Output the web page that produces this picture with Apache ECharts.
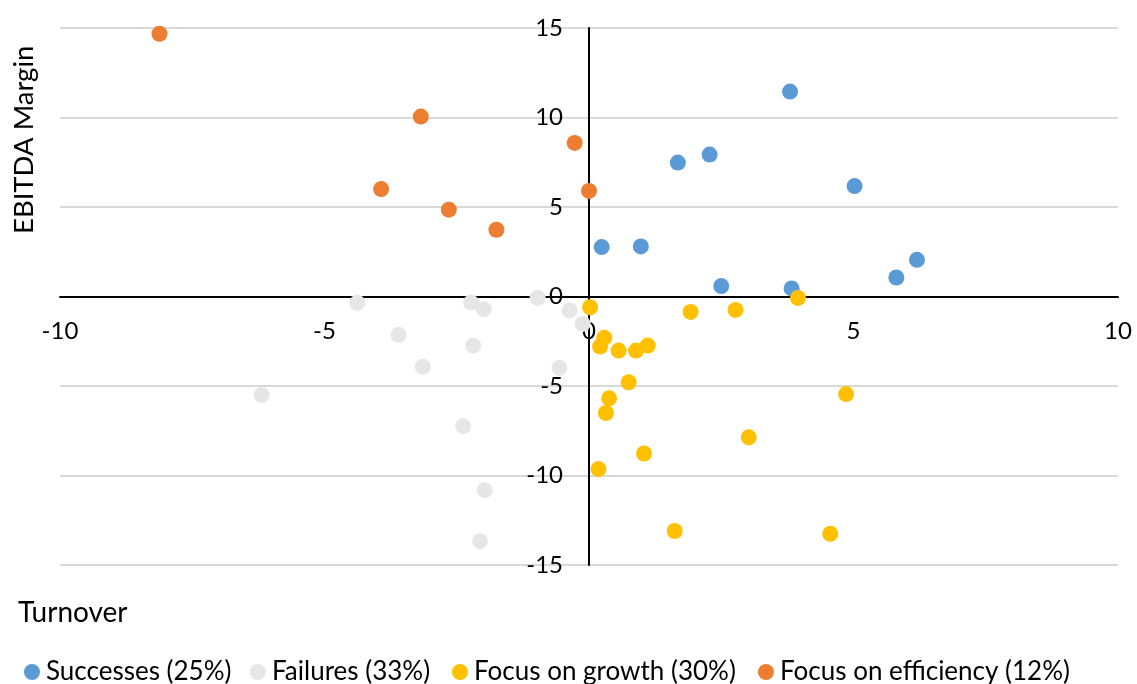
<!DOCTYPE html>
<html>
<head>
<meta charset="utf-8">
<style>
  html, body { margin: 0; padding: 0; background: #ffffff; }
  #chart { width: 1137px; height: 684px; }
</style>
<script src="https://cdn.jsdelivr.net/npm/echarts@6/dist/echarts.min.js"></script>
</head>
<body>
<div id="chart"></div>
<script>
// Turnover (x) vs EBITDA margin (y) for four groups of companies
const seriesNames = ['Successes (25%)', 'Failures (33%)', 'Focus on growth (30%)', 'Focus on efficiency (12%)'];
const seriesColors = ['#5b9bd5', '#e6e6e6', '#ffc000', '#ed7d31'];

const successes = [
  [3.80, 11.45], [1.68, 7.48], [2.28, 7.93], [5.02, 6.17], [0.24, 2.76],
  [0.98, 2.80], [6.20, 2.05], [5.81, 1.06], [2.50, 0.58], [3.83, 0.45]
];
const failures = [
  [-4.38, -0.35], [-2.23, -0.34], [-1.99, -0.71], [-0.97, -0.07], [-0.37, -0.78],
  [-0.12, -1.53], [-3.60, -2.14], [-2.19, -2.74], [-3.14, -3.92], [-0.56, -3.99],
  [-6.19, -5.50], [-2.38, -7.24], [-1.97, -10.82], [-2.06, -13.67]
];
const focusGrowth = [
  [0.02, -0.60], [1.92, -0.86], [2.77, -0.75], [3.95, -0.08], [0.29, -2.31],
  [0.21, -2.80], [0.56, -3.02], [0.89, -3.02], [1.11, -2.74], [0.75, -4.79],
  [0.38, -5.69], [0.32, -6.51], [4.86, -5.45], [3.02, -7.87], [1.04, -8.77],
  [0.18, -9.64], [1.62, -13.10], [4.56, -13.26]
];
const focusEfficiency = [
  [-8.12, 14.68], [-3.18, 10.05], [-3.93, 6.00], [-2.65, 4.85], [-1.75, 3.73],
  [-0.27, 8.58], [0.00, 5.90]
];

const xTitle = 'Turnover';
const yTitle = 'EBITDA Margin';

const FONT = 'Lato';
const groups = [successes, failures, focusGrowth, focusEfficiency];

// plot area
const GRID = { left: 60, right: 19, top: 28, bottom: 119 };
const W = 1137, H = 684;
const plotW = W - GRID.left - GRID.right;
const plotH = H - GRID.top - GRID.bottom;
// both axes run symmetric around 0, so they cross at the middle of the plot
const yAxisShift = -plotW / 2;
const xAxisShift = -plotH / 2;

// one legend entry per block, laid out along the bottom row
const legendLefts = [24, 250, 452, 758];

const chart = echarts.init(document.getElementById('chart'), null, { renderer: 'canvas' });

chart.setOption({
  animation: false,
  backgroundColor: '#ffffff',
  textStyle: { fontFamily: FONT },
  grid: Object.assign({ containLabel: false }, GRID),
  xAxis: {
    type: 'value',
    position: 'bottom',
    offset: xAxisShift,
    min: -10, max: 10, interval: 5,
    axisLine: { onZero: false, lineStyle: { color: '#000000', width: 2 } },
    axisTick: { show: false },
    splitLine: { show: false },
    axisLabel: { color: '#000000', fontSize: 24, fontFamily: FONT, margin: 23 }
  },
  yAxis: {
    type: 'value',
    position: 'left',
    offset: yAxisShift,
    min: -15, max: 15, interval: 5,
    axisLine: { onZero: false, lineStyle: { color: '#000000', width: 2 } },
    axisTick: { show: false },
    splitLine: { show: true, lineStyle: { color: '#d9d9d9', width: 2 } },
    axisLabel: { color: '#000000', fontSize: 24, fontFamily: FONT, margin: 26 }
  },
  legend: seriesNames.map((name, i) => ({
    left: legendLefts[i], top: 659,
    padding: 0,
    itemWidth: 16, itemHeight: 16,
    icon: 'circle',
    textStyle: { color: '#000000', fontSize: 26, fontFamily: FONT, padding: [0, 0, 0, 1] },
    data: [name]
  })),
  graphic: [
    {
      type: 'text', left: 18, top: 599,
      style: { text: xTitle, fill: '#000000', font: '28px ' + FONT }
    },
    {
      type: 'text', x: 10, y: 234, rotation: Math.PI / 2,
      style: { text: yTitle, fill: '#000000', font: '27.5px ' + FONT, textAlign: 'left', textVerticalAlign: 'top' }
    }
  ],
  series: groups.map((data, i) => ({
    name: seriesNames[i],
    type: 'scatter',
    symbol: 'circle',
    symbolSize: 16,
    itemStyle: { color: seriesColors[i], opacity: 1 },
    data: data
  }))
});
</script>
</body>
</html>
